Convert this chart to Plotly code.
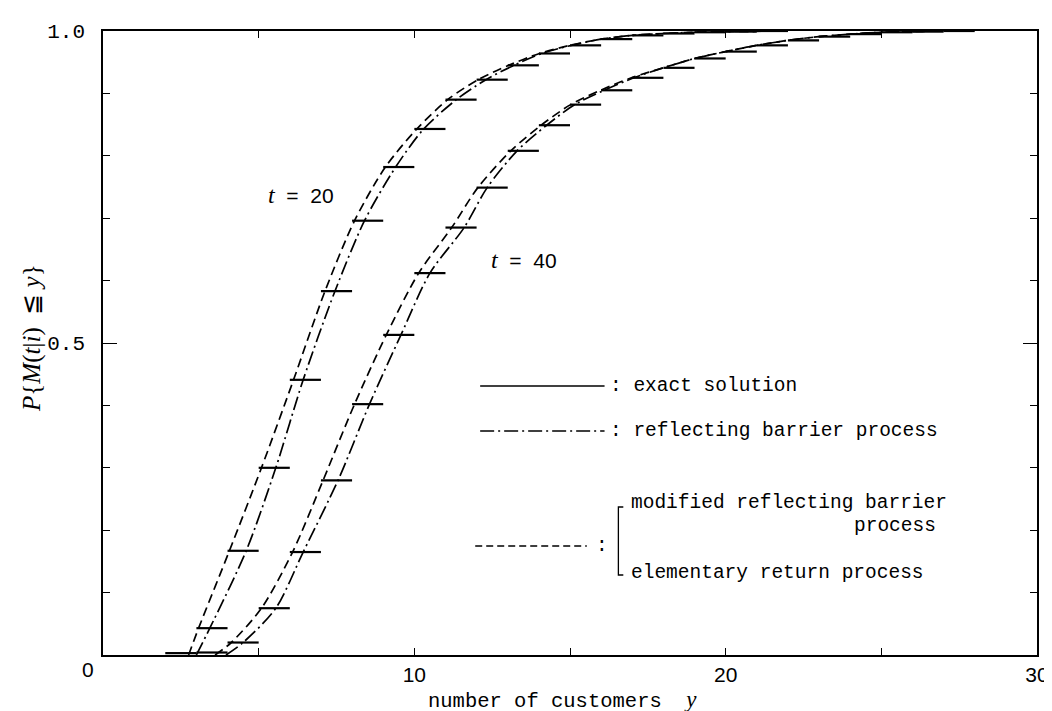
import plotly.graph_objects as go

# ---------------- data ----------------
# exact solution: step values P{M(t|i) <= k}, drawn on [k, k+1)
k_t20 = list(range(2, 22))
p_t20 = [0.003, 0.043, 0.167, 0.300, 0.441, 0.583, 0.696, 0.782, 0.843, 0.890,
         0.922, 0.945, 0.964, 0.977, 0.987, 0.993, 0.996, 0.998, 0.999, 1.000]
k_t40 = list(range(3, 28))
p_t40 = [0.004, 0.020, 0.075, 0.165, 0.280, 0.402, 0.513, 0.612, 0.685, 0.749,
         0.808, 0.849, 0.882, 0.905, 0.925, 0.941, 0.956, 0.967, 0.977, 0.985,
         0.991, 0.995, 0.998, 0.999, 1.000]

# reflecting barrier process (dash-dot)
rb20_x = [3.00, 3.43, 4.60, 5.55, 6.43, 7.45, 8.40, 9.40, 10.30, 11.35, 12.30, 13.20, 14.10, 15.05, 16.0, 17.0, 18.0, 19.0, 20.0, 22.0]
rb20_y = [0.000, 0.043, 0.167, 0.300, 0.441, 0.583, 0.696, 0.782, 0.843, 0.890, 0.922, 0.945, 0.964, 0.977, 0.987, 0.993, 0.996, 0.998, 0.999, 1.000]
rb40_x = [3.95, 4.50, 5.55, 6.43, 7.55, 8.56, 9.57, 10.50, 11.60, 12.34, 13.30, 14.25, 15.15, 16.10, 17.05, 18.0, 19.0, 20.0, 21.0, 22.0, 23.0, 24.0, 25.0, 27.0]
rb40_y = [0.000, 0.020, 0.075, 0.165, 0.280, 0.402, 0.513, 0.612, 0.685, 0.749, 0.808, 0.849, 0.882, 0.905, 0.925, 0.941, 0.956, 0.967, 0.977, 0.985, 0.991, 0.995, 0.998, 1.000]

# modified reflecting barrier / elementary return process (dashed)
mr20_x = [2.75, 3.07, 4.06, 5.09, 6.12, 7.13, 8.08, 9.07, 10.08, 11.07, 12.05, 13.03, 14.02, 15.0, 16.0, 17.0, 18.0, 19.0, 20.0, 22.0]
mr20_y = [0.000, 0.043, 0.167, 0.300, 0.441, 0.583, 0.696, 0.782, 0.843, 0.890, 0.922, 0.945, 0.964, 0.977, 0.987, 0.993, 0.996, 0.998, 0.999, 1.000]
mr40_x = [3.60, 4.12, 5.09, 6.09, 7.07, 8.08, 9.10, 10.14, 11.20, 12.04, 13.10, 14.07, 15.02, 15.98, 16.97, 18.0, 19.0, 20.0, 21.0, 22.0, 23.0, 24.0, 25.0, 27.0]
mr40_y = [0.000, 0.020, 0.075, 0.165, 0.280, 0.402, 0.513, 0.612, 0.685, 0.749, 0.808, 0.849, 0.882, 0.905, 0.925, 0.941, 0.956, 0.967, 0.977, 0.985, 0.991, 0.995, 0.998, 1.000]

x_tickvals = [10, 20, 30]
y_tickvals = [0.5, 1.0]
y_ticktext = ["0.5", "1.0"]

# ---------------- layout helpers ----------------
W, H = 1052, 711
L, R, T, B = 95, 1041, 23, 647


def px(x):
    return (x - L) / (R - L)


def py(y):
    return (B - y) / (B - T)


MONO = "Liberation Mono, DejaVu Sans Mono, monospace"
SANS = "Liberation Sans, Arial, sans-serif"
SERIF = "Liberation Serif, DejaVu Serif, serif"

fig = go.Figure()


def steps(ks, ps):
    xs, ys = [], []
    for k, p in zip(ks, ps):
        xs += [k, k + 1, None]
        ys += [p, p, None]
    return xs, ys


for ks, ps in [(k_t20, p_t20), (k_t40, p_t40)]:
    sx, sy = steps(ks, ps)
    fig.add_trace(go.Scatter(x=sx, y=sy, mode="lines",
                             line=dict(color="black", width=2.2),
                             hoverinfo="skip", showlegend=False))

for xs, ys in [(rb20_x, rb20_y), (rb40_x, rb40_y)]:
    fig.add_trace(go.Scatter(x=xs, y=ys, mode="lines",
                             line=dict(color="black", width=1.7, shape="spline",
                                       smoothing=0.8, dash="14px,4px,2px,4px"),
                             hoverinfo="skip", showlegend=False))

for xs, ys in [(mr20_x, mr20_y), (mr40_x, mr40_y)]:
    fig.add_trace(go.Scatter(x=xs, y=ys, mode="lines",
                             line=dict(color="black", width=1.7, shape="spline",
                                       smoothing=0.8, dash="9px,5px"),
                             hoverinfo="skip", showlegend=False))

shapes = []
# legend samples
shapes.append(dict(type="line", xref="paper", yref="paper",
                   x0=px(477), x1=px(603), y0=py(378), y1=py(378),
                   line=dict(color="black", width=1.6)))
shapes.append(dict(type="line", xref="paper", yref="paper",
                   x0=px(477), x1=px(603), y0=py(423), y1=py(423),
                   line=dict(color="black", width=1.6, dash="14px,4px,2px,4px")))
shapes.append(dict(type="line", xref="paper", yref="paper",
                   x0=px(472), x1=px(585), y0=py(538), y1=py(538),
                   line=dict(color="black", width=1.4, dash="7px,4px")))
# bracket
shapes.append(dict(type="path", xref="paper", yref="paper",
                   path=f"M {px(622)},{py(499)} L {px(617)},{py(499)} L {px(617)},{py(567)} L {px(622)},{py(567)}",
                   line=dict(color="black", width=1.3)))

annotations = []


def txt(x, y, s, font, size, xanchor="left", angle=0):
    annotations.append(dict(x=px(x), y=py(y), xref="paper", yref="paper",
                            text=s, showarrow=False, xanchor=xanchor, yanchor="middle",
                            textangle=angle,
                            font=dict(family=font, size=size, color="black")))


LEG = 19.5
txt(606, 378, ":\u00a0exact solution", MONO, LEG)
txt(606, 423, ":\u00a0reflecting barrier process", MONO, LEG)
txt(600, 538, ":", MONO, LEG, xanchor="center")
txt(628, 495, "modified reflecting barrier", MONO, LEG)
txt(941, 518, "process", MONO, LEG, xanchor="right")
txt(628, 565, "elementary return process", MONO, LEG)

tfont = f"<span style='font-family:{SERIF}; font-size:24px'><i>t</i></span>"
txt(296, 187, tfont + "\u00a0\u00a0=\u00a0\u00a020", SANS, 21, xanchor="center")
txt(521, 252, tfont + "\u00a0\u00a0=\u00a0\u00a040", SANS, 21, xanchor="center")

# axis titles and the shared origin label
txt(560, 692, "number of customers\u00a0\u00a0" + f"<span style='font-family:{SERIF}; font-size:23px'><i>y</i></span>",
    MONO, 20.5, xanchor="center")
txt(23, 330, "<i>P</i>{<i>M</i>(<i>t</i>|<i>i</i>)\u00a0\u00a0≦\u00a0<i>y</i>}", SERIF, 25,
    xanchor="center", angle=-90)
txt(80, 661, "0", SANS, 21, xanchor="center")

fig.update_layout(
    width=W, height=H,
    margin=dict(l=L, r=W - R, t=T, b=H - B, pad=0),
    paper_bgcolor="white", plot_bgcolor="white",
    shapes=shapes, annotations=annotations,
    showlegend=False,
)

fig.update_xaxes(range=[0, 30], tickvals=x_tickvals, ticks="inside", ticklen=7,
                 tickwidth=1.3, tickcolor="black", showgrid=False, zeroline=False,
                 showline=True, linecolor="black", linewidth=1.5, mirror="ticks",
                 tickfont=dict(family=SANS, size=21, color="black"),
                 minor=dict(dtick=5, tick0=0, ticks="inside", ticklen=7, tickwidth=1.3,
                            tickcolor="black", showgrid=False))
fig.update_yaxes(range=[0, 1], tickvals=y_tickvals, ticktext=y_ticktext, ticks="inside",
                 ticklen=14, tickwidth=1.3, tickcolor="black", showgrid=False, zeroline=False,
                 showline=True, linecolor="black", linewidth=1.5, mirror="ticks",
                 ticklabelstandoff=12,
                 tickfont=dict(family=MONO, size=21, color="black"),
                 minor=dict(dtick=0.1, tick0=0, ticks="inside", ticklen=7, tickwidth=1.3,
                            tickcolor="black", showgrid=False))

fig.write_html("out.html")
